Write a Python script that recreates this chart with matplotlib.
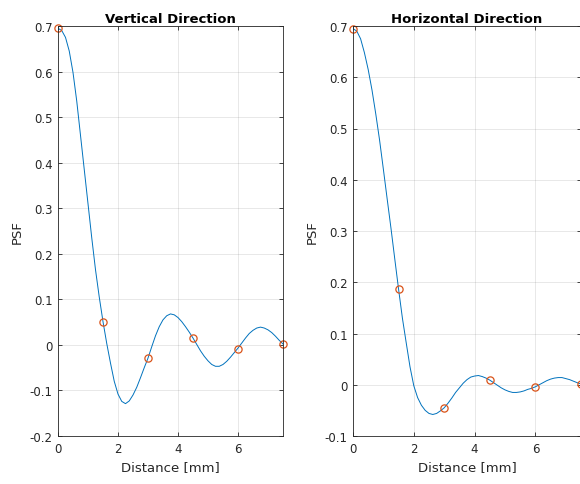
import numpy as np
import matplotlib.pyplot as plt

# distance samples [mm]
dist = np.arange(0, 7.51, 0.125)

psf_vert = [0.695, 0.690, 0.675, 0.645, 0.598, 0.535, 0.46, 0.385, 0.31, 0.235,
            0.165, 0.105, 0.051, 0.003, -0.04, -0.08, -0.108, -0.124, -0.129, -0.123,
            -0.11, -0.093, -0.072, -0.05, -0.029, -0.004, 0.02, 0.04, 0.055, 0.064,
            0.068, 0.066, 0.06, 0.051, 0.04, 0.028, 0.015, 0.001, -0.013, -0.025,
            -0.035, -0.043, -0.047, -0.047, -0.043, -0.036, -0.027, -0.017, -0.007, 0.004,
            0.015, 0.025, 0.032, 0.037, 0.039, 0.037, 0.033, 0.027, 0.019, 0.01, 0.002]
psf_horz = [0.695, 0.690, 0.675, 0.648, 0.615, 0.575, 0.528, 0.477, 0.42, 0.362,
            0.305, 0.245, 0.186, 0.13, 0.082, 0.035, -0.002, -0.025, -0.04, -0.05,
            -0.056, -0.058, -0.056, -0.051, -0.045, -0.036, -0.026, -0.015, -0.006, 0.003,
            0.010, 0.015, 0.017, 0.018, 0.016, 0.013, 0.009, 0.004, -0.001, -0.006,
            -0.010, -0.013, -0.015, -0.015, -0.014, -0.012, -0.009, -0.007, -0.004, 0.0,
            0.004, 0.008, 0.011, 0.013, 0.014, 0.014, 0.012, 0.010, 0.007, 0.004, 0.0015]

# sampled points (circles)
samp_x = [0, 1.5, 3, 4.5, 6, 7.5]
samp_vert = [0.695, 0.051, -0.029, 0.015, -0.008, 0.002]
samp_horz = [0.695, 0.186, -0.045, 0.009, -0.004, 0.0015]

blue = '#0072BD'
orange = '#D95319'

plt.rcParams['font.family'] = 'DejaVu Sans'

fig = plt.figure(figsize=(5.8, 4.85), dpi=100)
ax1 = fig.add_axes([58/580, 48/485, 225/580, 410/485])
ax2 = fig.add_axes([353/580, 48/485, 228/580, 410/485])


def style(ax, ylim, yticks, title):
    ax.set_xlim(0, 7.5)
    ax.set_ylim(*ylim)
    ax.set_xticks([0, 2, 4, 6])
    ax.set_yticks(yticks)
    ax.set_yticklabels([f"{t:g}" for t in yticks])
    ax.grid(True, color='#262626', alpha=0.12, linewidth=0.6)
    ax.tick_params(direction='in', top=True, right=True, length=3,
                   labelsize=8.5, colors='#262626', width=0.6, pad=4)
    for s in ax.spines.values():
        s.set_color('#262626')
        s.set_linewidth(0.6)
    ax.set_xlabel('Distance [mm]', fontsize=9.5, color='#262626')
    ax.set_ylabel('PSF', fontsize=9.5, color='#262626')
    ax.set_title(title, fontsize=9.5, fontweight='bold', pad=3)
    ax.set_axisbelow(True)


ax1.plot(dist, psf_vert, color=blue, linewidth=0.7)
ax1.plot(samp_x, samp_vert, 'o', mfc='none', mec=orange, ms=5.2, mew=0.9, clip_on=False)
style(ax1, (-0.2, 0.7), np.round(np.arange(-0.2, 0.71, 0.1), 1), 'Vertical Direction')

ax2.plot(dist, psf_horz, color=blue, linewidth=0.7)
ax2.plot(samp_x, samp_horz, 'o', mfc='none', mec=orange, ms=5.2, mew=0.9, clip_on=False)
style(ax2, (-0.1, 0.7), np.round(np.arange(-0.1, 0.71, 0.1), 1), 'Horizontal Direction')

fig.savefig('out.png', dpi=100)
